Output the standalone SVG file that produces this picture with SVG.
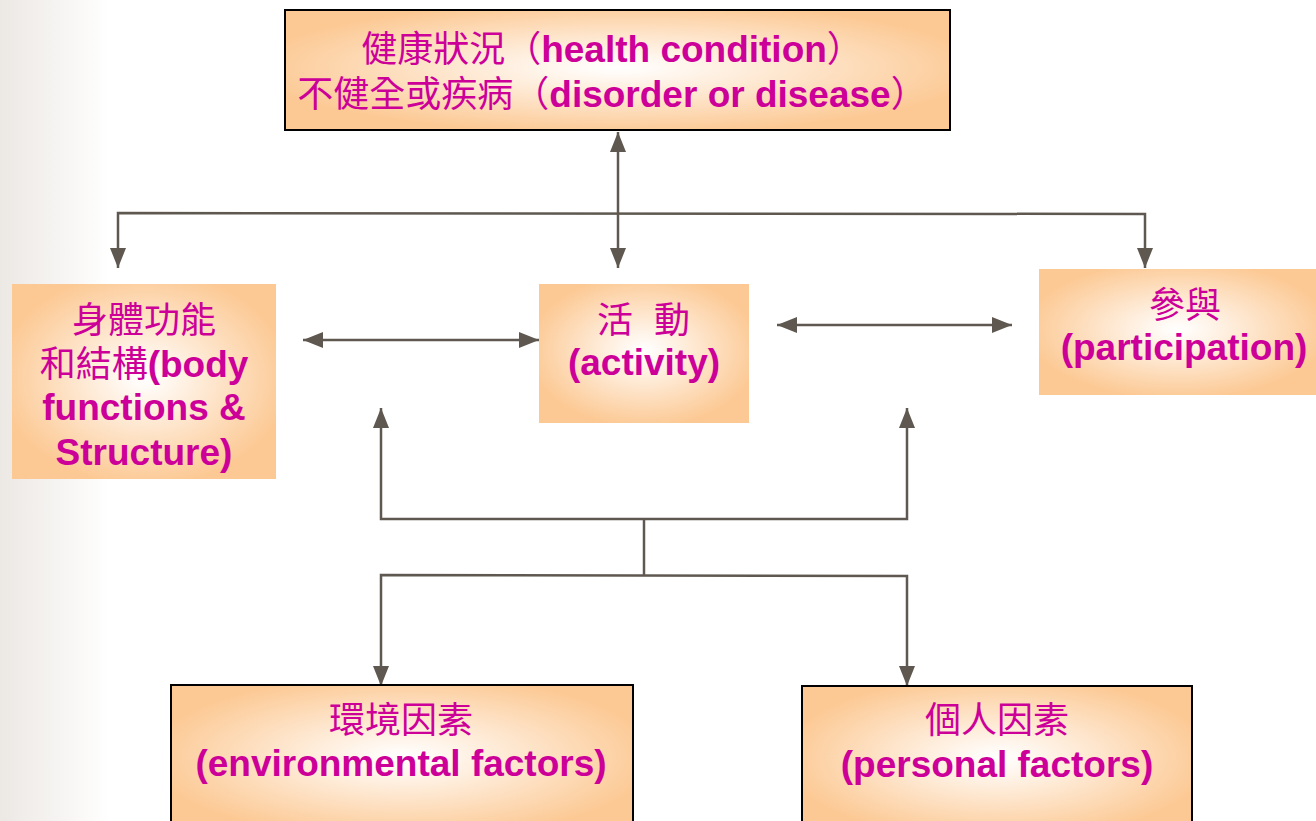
<svg xmlns="http://www.w3.org/2000/svg" width="1316" height="821" viewBox="0 0 1316 821">
  <defs>
    <linearGradient id="bg" x1="0" y1="0" x2="1" y2="0">
      <stop offset="0" stop-color="#ece8e4"/>
      <stop offset="1" stop-color="#ffffff"/>
    </linearGradient>
    <radialGradient id="peach" cx="50%" cy="48%" r="55%">
      <stop offset="0" stop-color="#ffffff"/>
      <stop offset="0.15" stop-color="#fff8f1"/>
      <stop offset="1" stop-color="#fcc994"/>
    </radialGradient>
    <marker id="arr" markerUnits="userSpaceOnUse" markerWidth="20" markerHeight="16" viewBox="0 0 20 16" refX="20" refY="8" orient="auto-start-reverse">
      <path d="M0,0 L20,8 L0,16 Z" fill="#5f5850"/>
    </marker>
  </defs>
  <style>
    .box { fill: url(#peach); }
    .bordered { stroke: #000000; stroke-width: 2; }
    .t { fill: #cc0099; text-anchor: middle; }
    .cjk { font-family: "Noto Sans CJK TC", "Noto Sans CJK SC", sans-serif; font-size: 36px; }
    .lat { font-family: "Liberation Sans", Arial, sans-serif; font-weight: bold; font-size: 37px; }
    .conn { fill: none; stroke: #5f5850; stroke-width: 2.5; }
  </style>

  <rect x="0" y="0" width="110" height="821" fill="url(#bg)"/>

  <g id="connectors">
    <line class="conn" x1="618" y1="132" x2="618" y2="268" marker-start="url(#arr)" marker-end="url(#arr)"/>
    <path class="conn" d="M118,268 L118,213 L1145,214 L1145,268" marker-start="url(#arr)" marker-end="url(#arr)"/>
    <line class="conn" x1="303" y1="340" x2="539" y2="340" marker-start="url(#arr)" marker-end="url(#arr)"/>
    <line class="conn" x1="777" y1="325" x2="1012" y2="325" marker-start="url(#arr)" marker-end="url(#arr)"/>
    <path class="conn" d="M381,408 L381,519 L907,519 L907,408" marker-start="url(#arr)" marker-end="url(#arr)"/>
    <line class="conn" x1="644" y1="519" x2="644" y2="575"/>
    <path class="conn" d="M381,686 L381,575 L907,576 L907,686" marker-start="url(#arr)" marker-end="url(#arr)"/>
  </g>

  <g id="health">
    <rect class="box bordered" x="285" y="10" width="665" height="120"/>
    <text class="t" x="612" y="62"><tspan class="cjk">健康狀況（</tspan><tspan class="lat">health condition</tspan><tspan class="cjk">）</tspan></text>
    <text class="t" x="612" y="107"><tspan class="cjk">不健全或疾病（</tspan><tspan class="lat">disorder or disease</tspan><tspan class="cjk">）</tspan></text>
  </g>

  <g id="body">
    <rect class="box" x="12" y="284" width="264" height="195"/>
    <text class="t cjk" x="144" y="333">身體功能</text>
    <text class="t" x="144" y="377"><tspan class="cjk">和結構</tspan><tspan class="lat">(body</tspan></text>
    <text class="t lat" x="144" y="420">functions &amp;</text>
    <text class="t lat" x="144" y="465">Structure)</text>
  </g>

  <g id="activity">
    <rect class="box" x="539" y="284" width="210" height="139"/>
    <text class="t cjk" y="333"><tspan x="615">活</tspan><tspan x="672">動</tspan></text>
    <text class="t lat" x="644" y="375">(activity)</text>
  </g>

  <g id="participation">
    <rect class="box" x="1039" y="269" width="277" height="126"/>
    <text class="t cjk" x="1185" y="318">參與</text>
    <text class="t lat" x="1184" y="360">(participation)</text>
  </g>

  <g id="environmental">
    <rect class="box bordered" x="171" y="685" width="462" height="150"/>
    <text class="t cjk" x="401" y="733">環境因素</text>
    <text class="t lat" x="401" y="776">(environmental factors)</text>
  </g>

  <g id="personal">
    <rect class="box bordered" x="802" y="686" width="390" height="150"/>
    <text class="t cjk" x="997" y="733">個人因素</text>
    <text class="t lat" x="997" y="777">(personal factors)</text>
  </g>
</svg>
